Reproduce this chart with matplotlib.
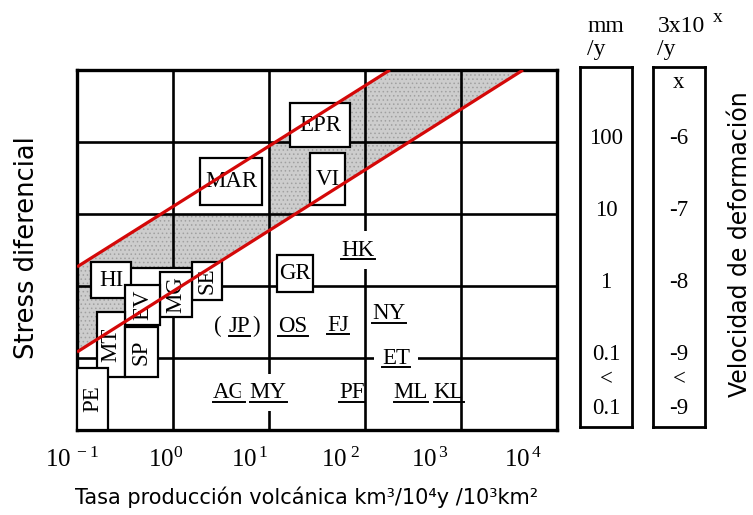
import matplotlib
matplotlib.use("Agg")
import matplotlib.pyplot as plt
from matplotlib.patches import Rectangle
from matplotlib.lines import Line2D
import matplotlib.transforms as mtransforms
import numpy as np

plt.rcParams['mathtext.fontset'] = 'custom'
plt.rcParams['mathtext.rm'] = 'Liberation Serif'
plt.rcParams['mathtext.it'] = 'Liberation Serif:italic'
plt.rcParams['mathtext.bf'] = 'Liberation Serif:bold'
plt.rcParams['hatch.linewidth'] = 0.6

# ---------------- data ----------------
x_ticks = [0.1, 1, 10, 100, 1000, 10000]
x_tick_labels = [r'$10^{\ -1}$', r'$10^{0}$', r'$10^{\,1}$', r'$10^{\ 2}$', r'$10^{\,3}$', r'$10^{\,4}$']
grid_x = [1, 10, 100, 1000]
grid_y = [0.1, 1, 10, 100]

# red limit lines
upper_x = [0.1, 182]
upper_y = [1.84, 1000]
lower_x = [0.1, 4425]
lower_y = [0.121, 1000]

# shaded band outline
band_x = [0.1, 4425, 182, 10, 10, 0.752, 0.1]
band_y = [0.121, 1000, 1000, 87.7, 10, 10, 1.84]

# boxed regions
box_labels = ["EPR", "MAR", "VI", "GR", "", "HI", "SE", "MG", "EV", "MT", "SP", "PE"]
box_x0 = [16.5, 1.91, 26.7, 12.1, 0.356, 0.140, 1.58, 0.733, 0.316, 0.161, 0.316, 0.1]
box_x1 = [69.8, 8.45, 61.9, 28.7, 1.58, 0.365, 3.24, 1.58, 0.733, 0.316, 0.698, 0.21]
box_y0 = [85, 13.3, 13.3, 0.826, 0.64, 0.681, 0.64, 0.371, 0.287, 0.0545, 0.0545, 0.01]
box_y1 = [348, 60, 70.3, 2.70, 1.78, 2.15, 2.15, 1.56, 1.03, 0.435, 0.27, 0.073]
box_rot = [0, 0, 0, 0, 0, 0, 90, 90, 90, 90, 90, 90]

# underlined labels
ul_labels = ["HK", "JP", "OS", "FJ", "NY", "ET", "AG", "MY", "PF", "ML", "KL"]
ul_x = [84.5, 4.93, 17.8, 52.4, 178, 210, 3.83, 9.8, 73, 301, 750]
ul_y = [3.16, 0.27, 0.27, 0.287, 0.41, 0.1, 0.033, 0.033, 0.033, 0.033, 0.033]
ul_mask = [True, False, False, False, False, True, False, True, False, False, False]

# side scales
scale_y = [600, 100, 10, 1, 0.1, 0.046, 0.0178]
scale_mm = ["", "100", "10", "1", "0.1", "<", "0.1"]
scale_exp = ["x", "-6", "-7", "-8", "-9", "<", "-9"]

# ---------------- figure ----------------
W, H = 753, 515
fig = plt.figure(figsize=(W / 100, H / 100), dpi=100)
ax = fig.add_axes([77 / W, (H - 430) / H, 480 / W, 360 / H])
ax.set_xscale('log')
ax.set_yscale('log')
ax.set_xlim(0.1, 1e4)
ax.set_ylim(0.01, 1000)
ax.set_xticks(x_ticks)
ax.set_xticklabels([])
ax.set_yticks([])
ax.minorticks_off()
ax.tick_params(length=0)
for s in ax.spines.values():
    s.set_linewidth(2.4)

SERIF = 'Liberation Serif'
LAB_FS = 16.5

# band
ax.fill(band_x, band_y, facecolor='#cdcdcd', edgecolor='#a0a0a0', hatch='....',
        linewidth=0, zorder=1)

# grid
for gx in grid_x:
    ax.axvline(gx, color='black', lw=1.9, zorder=2)
for gy in grid_y:
    ax.axhline(gy, color='black', lw=1.9, zorder=2)

# boxes
for lab, x0, x1, y0, y1, rot in zip(box_labels, box_x0, box_x1, box_y0, box_y1, box_rot):
    ax.add_patch(Rectangle((x0, y0), x1 - x0, y1 - y0, facecolor='white',
                           edgecolor='black', lw=1.6, zorder=3))
    if lab:
        ax.text(np.sqrt(x0 * x1), np.sqrt(y0 * y1), lab, rotation=rot,
                ha='center', va='center', fontsize=LAB_FS, family=SERIF, zorder=4)

# underlined labels
ul_texts = []
for lab, x, y, m in zip(ul_labels, ul_x, ul_y, ul_mask):
    kw = {}
    if m:
        kw['bbox'] = dict(facecolor='white', edgecolor='none', pad=6)
    t = ax.text(x, y, lab, ha='center', va='center', fontsize=LAB_FS, family=SERIF,
                zorder=4, **kw)
    ul_texts.append(t)
    if lab == "JP":
        ax.annotate("(", xy=(0, 0.5), xycoords=t, xytext=(-5, 0), textcoords='offset points',
                    ha='right', va='center', fontsize=LAB_FS, family=SERIF, zorder=4)
        ax.annotate(")", xy=(1, 0.5), xycoords=t, xytext=(1.5, 0), textcoords='offset points',
                    ha='left', va='center', fontsize=LAB_FS, family=SERIF, zorder=4)

# red lines
ax.plot(upper_x, upper_y, color='#d40808', lw=2.3, zorder=6, solid_capstyle='butt')
ax.plot(lower_x, lower_y, color='#d40808', lw=2.3, zorder=6, solid_capstyle='butt')

# x tick labels
tick_off_px = [-5, -7, -19, -24, -31, -34]
for v, lab, off in zip(x_ticks, x_tick_labels, tick_off_px):
    tr = ax.get_xaxis_transform() + mtransforms.ScaledTranslation(off / 100, 0, fig.dpi_scale_trans)
    ax.text(v, -0.048, lab, transform=tr, ha='center', va='top', fontsize=18,
            family=SERIF, clip_on=False)

# axis labels
fig.text(307 / W, 1 - 497 / H, 'Tasa producción volcánica km³/10⁴y /10³km²',
         ha='center', va='center', fontsize=15, family='DejaVu Sans')
fig.text(27 / W, 1 - 248 / H, 'Stress diferencial', rotation=90,
         ha='center', va='center', fontsize=18.5, family='DejaVu Sans')
fig.text(740 / W, 1 - 244 / H, 'Velocidad de deformación', rotation=90,
         ha='center', va='center', fontsize=17, family='DejaVu Sans')

# side scale panels
for left, labels in ((580, scale_mm), (653, scale_exp)):
    a = fig.add_axes([left / W, (H - 427) / H, 52 / W, 360 / H])
    a.set_yscale('log')
    a.set_ylim(0.01, 1000)
    a.set_xlim(0, 1)
    a.set_xticks([])
    a.set_yticks([])
    a.minorticks_off()
    for s in a.spines.values():
        s.set_linewidth(2.0)
    for y, lab in zip(scale_y, labels):
        if lab:
            a.text(0.5, y, lab, transform=a.get_yaxis_transform(), ha='center',
                   va='center', fontsize=16.5, family=SERIF)

fig.text(588 / W, 1 - 27 / H, 'mm', ha='left', va='center', fontsize=17, family=SERIF)
fig.text(587 / W, 1 - 50 / H, '/y', ha='left', va='center', fontsize=17, family=SERIF)
fig.text(658 / W, 1 - 27 / H, '3x10', ha='left', va='center', fontsize=17, family=SERIF)
fig.text(713 / W, 1 - 17 / H, 'x', ha='left', va='center', fontsize=14, family=SERIF)
fig.text(657 / W, 1 - 50 / H, '/y', ha='left', va='center', fontsize=17, family=SERIF)

# underlines
fig.canvas.draw()
renderer = fig.canvas.get_renderer()
inv = fig.transFigure.inverted()
for t in ul_texts:
    bb = t.get_window_extent(renderer)
    yline = bb.y0 + 1.5
    (fx0, fy), (fx1, _) = inv.transform([(bb.x0, yline), (bb.x1, yline)])
    fig.add_artist(Line2D([fx0, fx1], [fy, fy], color='black', lw=1.4, zorder=5))

fig.savefig('out.png', dpi=100)
